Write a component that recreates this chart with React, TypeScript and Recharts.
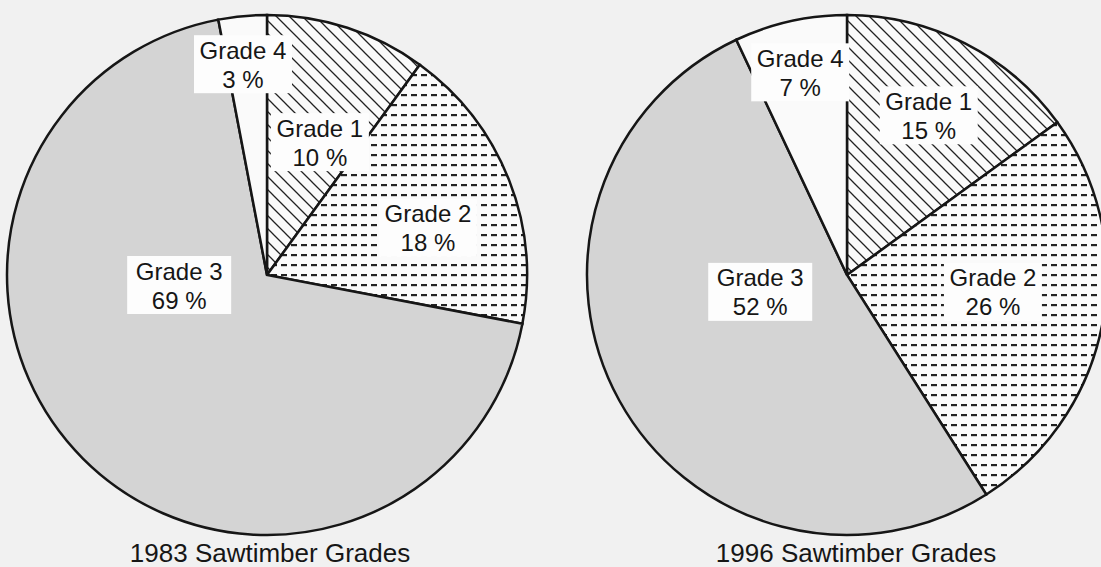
import { Cell, Pie, PieChart } from "recharts";

const grades = ["Grade 1", "Grade 2", "Grade 3", "Grade 4"];
const shares1983 = [10, 18, 69, 3];
const shares1996 = [15, 26, 52, 7];
const titles = ["1983 Sawtimber Grades", "1996 Sawtimber Grades"];

// label placement: [degrees clockwise from 12 o'clock, fraction of radius]
const labelPos1983 = [[21.7, 0.55], [73.7, 0.645], [263.5, 0.34], [353.5, 0.816]];
const labelPos1996 = [[27.1, 0.69], [96.6, 0.565], [259, 0.34], [347, 0.8]];

const FONT = "'Liberation Sans', Arial, Helvetica, sans-serif";
const INK = "#161616";
const BG = "#f1f1f1";

function makeLabel(shares: number[], pos: number[][]) {
  return (props: any) => {
    const { cx, cy, outerRadius, index } = props;
    const [deg, frac] = pos[index];
    const a = (deg * Math.PI) / 180;
    const x = cx + outerRadius * frac * Math.sin(a);
    const y = cy - outerRadius * frac * Math.cos(a);
    const w = index === 2 ? 104 : 98;
    return (
      <g>
        <rect x={x - w / 2} y={y - 29} width={w} height={58} fill="#fdfdfd" />
        <text x={x} y={y - 14} textAnchor="middle" dominantBaseline="central" fill={INK} fontSize={24} fontFamily={FONT}>
          {grades[index]}
        </text>
        <text x={x} y={y + 15} textAnchor="middle" dominantBaseline="central" fill={INK} fontSize={24} fontFamily={FONT}>
          {`${shares[index]} %`}
        </text>
      </g>
    );
  };
}

function GradePie({ id, shares, pos, left, width }: { id: string; shares: number[]; pos: number[][]; left: number; width: number }) {
  const data = grades.map((g, i) => ({ name: g, value: shares[i] }));
  const fills = [`url(#hatch-${id})`, `url(#dash-${id})`, "#d4d4d4", "#fafafa"];
  return (
    <div style={{ position: "absolute", left, top: 0 }}>
      <PieChart width={width} height={545} margin={{ top: 0, right: 0, bottom: 0, left: 0 }} style={{ overflow: "visible" }}>
        <defs>
          <pattern id={`hatch-${id}`} patternUnits="userSpaceOnUse" width={13} height={13}>
            <rect width={13} height={13} fill="#fafafa" />
            <path d="M0,0 L13,13 M-2,11 L2,15 M11,-2 L15,2" stroke="#222" strokeWidth={1.3} />
          </pattern>
          <pattern id={`dash-${id}`} patternUnits="userSpaceOnUse" width={10} height={10}>
            <rect width={10} height={10} fill="#fafafa" />
            <rect x={1} y={4} width={6} height={2.2} fill="#222" />
          </pattern>
        </defs>
        <Pie
          data={data}
          dataKey="value"
          cx={267}
          cy={275}
          outerRadius={260}
          startAngle={90}
          endAngle={-270}
          stroke={INK}
          strokeWidth={2.5}
          label={makeLabel(shares, pos)}
          labelLine={false}
          isAnimationActive={false}
        >
          {data.map((d, i) => (
            <Cell key={d.name} fill={fills[i]} />
          ))}
        </Pie>
      </PieChart>
    </div>
  );
}

export default function App() {
  const titleStyle = { position: "absolute" as const, top: 538, width: 400, textAlign: "center" as const, fontFamily: FONT, fontSize: 26, color: INK, lineHeight: "30px" };
  return (
    <div style={{ position: "absolute", left: 0, top: 0, width: 1101, height: 567, background: BG, overflow: "hidden" }}>
      <GradePie id="a" shares={shares1983} pos={labelPos1983} left={0} width={560} />
      <GradePie id="b" shares={shares1996} pos={labelPos1996} left={580} width={521} />
      <div style={{ ...titleStyle, left: 270 - 200 }}>{titles[0]}</div>
      <div style={{ ...titleStyle, left: 856 - 200 }}>{titles[1]}</div>
    </div>
  );
}
